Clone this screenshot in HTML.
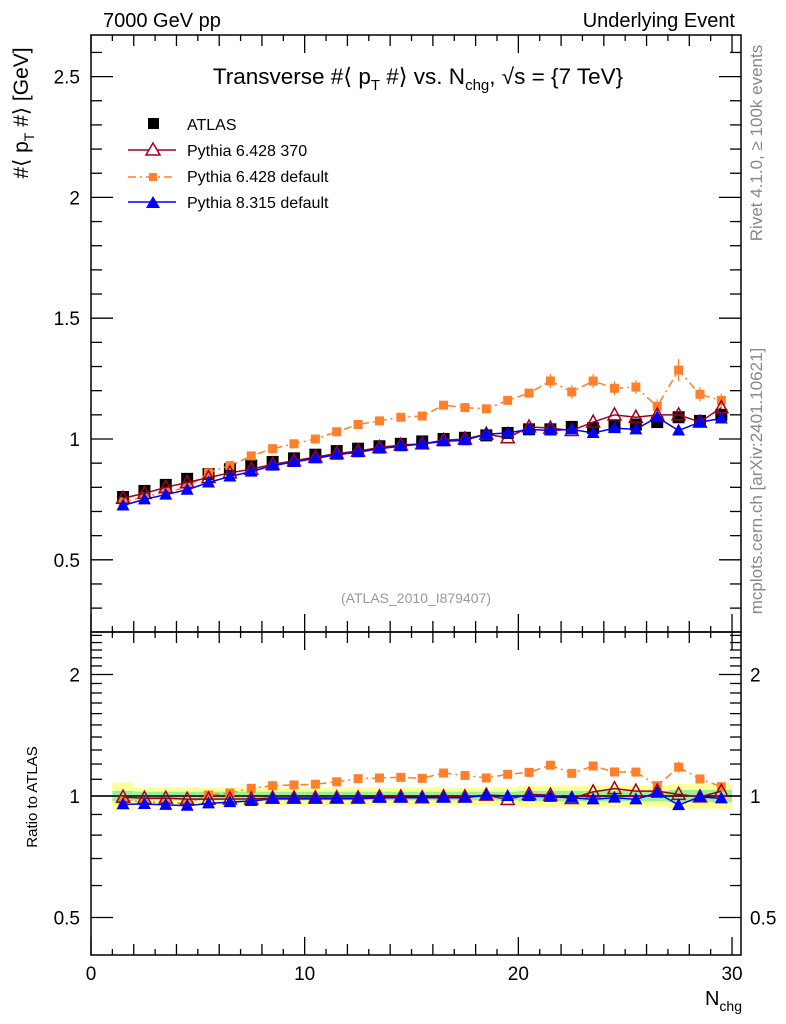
<!DOCTYPE html>
<html><head><meta charset="utf-8">
<style>
body{margin:0;background:#fff;}
svg{display:block;font-family:"Liberation Sans",sans-serif;}
</style></head>
<body>
<svg id="chart" width="786" height="1024" viewBox="0 0 786 1024" xmlns="http://www.w3.org/2000/svg">
<text x="103" y="27" font-size="20">7000 GeV pp</text>
<text x="735" y="27" font-size="20" text-anchor="end">Underlying Event</text>
<text x="418" y="84" font-size="22.5" text-anchor="middle">Transverse #⟨ p<tspan font-size="15" dy="6">T</tspan><tspan dy="-6"> #⟩ vs. N</tspan><tspan font-size="15" dy="6">chg</tspan><tspan dy="-6">, √s = {7 TeV}</tspan></text>
<text transform="translate(28,113) rotate(-90)" font-size="21" text-anchor="middle">#⟨ p<tspan font-size="14" dy="6">T</tspan><tspan dy="-6"> #⟩ [GeV]</tspan></text>
<text transform="translate(37,797) rotate(-90)" font-size="15" text-anchor="middle">Ratio to ATLAS</text>
<text x="742" y="1005" font-size="20" text-anchor="end">N<tspan font-size="14" dy="6">chg</tspan></text>
<text transform="translate(762,143) rotate(-90)" font-size="17" fill="#888" text-anchor="middle">Rivet 4.1.0, ≥ 100k events</text>
<text transform="translate(762,481) rotate(-90)" font-size="17" fill="#888" text-anchor="middle">mcplots.cern.ch [arXiv:2401.10621]</text>
<text x="416" y="603" font-size="14" fill="#999" text-anchor="middle">(ATLAS_2010_I879407)</text>
<g id="legend">
<rect x="148" y="118" width="11" height="11" fill="#000"/>
<text x="187" y="130" font-size="16">ATLAS</text>
<line x1="128" y1="150" x2="176" y2="150" stroke="#a00020" stroke-width="1.5"/>
<polygon points="153,143 160,155 146,155" fill="#fff" stroke="#a00020" stroke-width="1.5"/>
<text x="187" y="156" font-size="16">Pythia 6.428 370</text>
<line x1="128" y1="177" x2="176" y2="177" stroke="#ff7f2a" stroke-width="1.5" stroke-dasharray="8,4,2,4"/>
<rect x="149" y="173" width="8" height="8" fill="#ff7f2a"/>
<text x="187" y="182" font-size="16">Pythia 6.428 default</text>
<line x1="128" y1="202" x2="176" y2="202" stroke="#0000ff" stroke-width="1.5"/>
<polygon points="153,196 160,208 146,208" fill="#0000ff"/>
<text x="187" y="208" font-size="16">Pythia 8.315 default</text>
</g>
</svg>
<script>
const categories=[1.5,2.5,3.5,4.5,5.5,6.5,7.5,8.5,9.5,10.5,11.5,12.5,13.5,14.5,15.5,16.5,17.5,18.5,19.5,20.5,21.5,22.5,23.5,24.5,25.5,26.5,27.5,28.5,29.5];
const atlas=[0.76,0.785,0.81,0.835,0.855,0.875,0.89,0.905,0.92,0.935,0.95,0.96,0.97,0.98,0.99,1.0,1.005,1.015,1.025,1.04,1.04,1.05,1.045,1.055,1.06,1.07,1.09,1.075,1.10];
const p6_370=[0.755,0.775,0.80,0.82,0.84,0.86,0.875,0.895,0.91,0.925,0.94,0.95,0.965,0.975,0.98,0.995,1.0,1.02,1.005,1.05,1.045,1.035,1.07,1.10,1.09,1.10,1.10,1.07,1.13];
const p6_def=[0.74,0.76,0.78,0.80,0.86,0.89,0.93,0.96,0.98,1.0,1.03,1.06,1.075,1.09,1.095,1.14,1.13,1.125,1.16,1.19,1.24,1.195,1.24,1.21,1.215,1.135,1.285,1.185,1.16];
const p8=[0.725,0.75,0.77,0.79,0.82,0.845,0.865,0.89,0.905,0.92,0.935,0.945,0.96,0.97,0.98,0.99,0.995,1.02,1.025,1.04,1.035,1.04,1.025,1.045,1.04,1.09,1.035,1.07,1.085];
const bandOuter=[0.08,0.05,0.05,0.05,0.05,0.05,0.05,0.05,0.05,0.05,0.05,0.05,0.05,0.05,0.05,0.05,0.05,0.05,0.05,0.06,0.06,0.06,0.06,0.06,0.06,0.06,0.07,0.07,0.07];
const bandInner=[0.03,0.025,0.025,0.025,0.025,0.025,0.025,0.025,0.025,0.025,0.025,0.025,0.025,0.025,0.025,0.025,0.025,0.025,0.025,0.03,0.03,0.03,0.03,0.03,0.03,0.03,0.035,0.035,0.035];
const mainTicks=[0.5,1,1.5,2,2.5];
const ratioTicks=[0.5,1,2];
const xTicks=[0,10,20,30];

const NS="http://www.w3.org/2000/svg";
const svg=document.getElementById('chart');
const L=91,R=741,T1=35,B1=632,B2=955;
const X=v=>L+v*(R-L)/30.42;
const Y1=v=>439-(v-1)*241.6;
const Y2=v=>796-Math.log2(v)*121.5;
function mk(tag,attrs,parent){const e=document.createElementNS(NS,tag);for(const k in attrs)e.setAttribute(k,attrs[k]);(parent||svg).appendChild(e);return e;}

const bands=mk('g',{});


categories.forEach((c,i)=>{
  const r1=mk('rect',{x:X(c-0.5),width:X(1)-X(0),y:Y2(1+bandOuter[i]),height:Y2(1-bandOuter[i])-Y2(1+bandOuter[i]),fill:'#ffff99'},bands);
  
  
  const r2=mk('rect',{x:X(c-0.5),width:X(1)-X(0),y:Y2(1+bandInner[i]),height:Y2(1-bandInner[i])-Y2(1+bandInner[i]),fill:'#99ee99'},bands);
  
  
});
const one=mk('line',{x1:L,x2:R,y1:Y2(1),y2:Y2(1),stroke:'#000','stroke-width':1.5});



[[T1,B1,'main-frame'],[B1,B2,'ratio-frame']].forEach(([t,b,n])=>{
  const f=mk('rect',{x:L,y:t,width:R-L,height:b-t,fill:'none',stroke:'#000','stroke-width':1.5});
  
  
});
for(let v=0;v<=30;v++){
  const len=v%10==0?18:(v%2==0?11:6);
  [T1,B1,B2].forEach((yy,k)=>{
    if(k!==0){mk('line',{x1:X(v),x2:X(v),y1:yy,y2:yy-len,stroke:'#000','stroke-width':1.3});}
    if(k!==2){mk('line',{x1:X(v),x2:X(v),y1:yy,y2:yy+len,stroke:'#000','stroke-width':1.3});}
  });
}
xTicks.forEach(v=>{const t=mk('text',{x:X(v),y:980,'font-size':19,'text-anchor':'middle'});t.textContent=v;
  
  });
for(let k=3;k<=26;k++){const v=k/10;const y=Y1(v);if(y<T1||y>B1)continue;const len=k%5==0?22:11;
  mk('line',{x1:L,x2:L+len,y1:y,y2:y,stroke:'#000','stroke-width':1.3});mk('line',{x1:R,x2:R-len,y1:y,y2:y,stroke:'#000','stroke-width':1.3});}
mainTicks.forEach(v=>{const t=mk('text',{x:80,y:Y1(v)+7,'font-size':19,'text-anchor':'end'});t.textContent=v;
  
  });
for(let k=5;k<=25;k++){const v=k/10;const y=Y2(v);if(y<B1||y>B2)continue;const len=(v==0.5||v==1||v==2)?22:11;
  mk('line',{x1:L,x2:L+len,y1:y,y2:y,stroke:'#000','stroke-width':1.3});mk('line',{x1:R,x2:R-len,y1:y,y2:y,stroke:'#000','stroke-width':1.3});}
ratioTicks.forEach(v=>{[[80,'end'],[750,'start']].forEach(([x,a])=>{const t=mk('text',{x:x,y:Y2(v)+7,'font-size':19,'text-anchor':a});t.textContent=v;
  
  });});

function series(vals,Yf,color,dash,marker,name,err){
  const g=mk('g',{});
  
  
  if(color!=='#000'){
    const pts=categories.map((c,i)=>X(c)+','+Yf(vals[i])).join(' ');
    const pl=mk('polyline',{points:pts,fill:'none',stroke:color,'stroke-width':1.5,'stroke-dasharray':dash||'none'},g);
    
    
  }
  categories.forEach((c,i)=>{
    const x=X(c),y=Yf(vals[i]);let m;
    if(err&&err[i]){mk('line',{x1:x,x2:x,y1:y-err[i],y2:y+err[i],stroke:color,'stroke-width':1.2},g);}
    if(marker==='sq') m=mk('rect',{x:x-6,y:y-6,width:12,height:12,fill:color},g);
    else if(marker==='osq') m=mk('rect',{x:x-4.5,y:y-4.5,width:9,height:9,fill:color},g);
    else if(marker==='otri') m=mk('polygon',{points:`${x},${y-7} ${x+6.5},${y+5} ${x-6.5},${y+5}`,fill:'none',stroke:color,'stroke-width':1.5},g);
    else m=mk('polygon',{points:`${x},${y-7} ${x+6.5},${y+5} ${x-6.5},${y+5}`,fill:color},g);
    
    
  });
}
const orErr=categories.map((c,i)=>i>=20?(i==26?11:7):0);
series(atlas,Y1,'#000',null,'sq','atlas-main');
series(p6_def,Y1,'#ff7f2a','8,4,2,4','osq','p6-default-main',orErr);
series(p6_370,Y1,'#a00020',null,'otri','p6-370-main');
series(p8,Y1,'#0000ff',null,'tri','p8-main');
const rat=a=>a.map((v,i)=>v/atlas[i]);
series(rat(p6_def),Y2,'#ff7f2a','8,4,2,4','osq','p6-default-ratio',orErr.map(e=>e*0.5));
series(rat(p6_370),Y2,'#a00020',null,'otri','p6-370-ratio');
series(rat(p8),Y2,'#0000ff',null,'tri','p8-ratio');
</script>
</body></html>
